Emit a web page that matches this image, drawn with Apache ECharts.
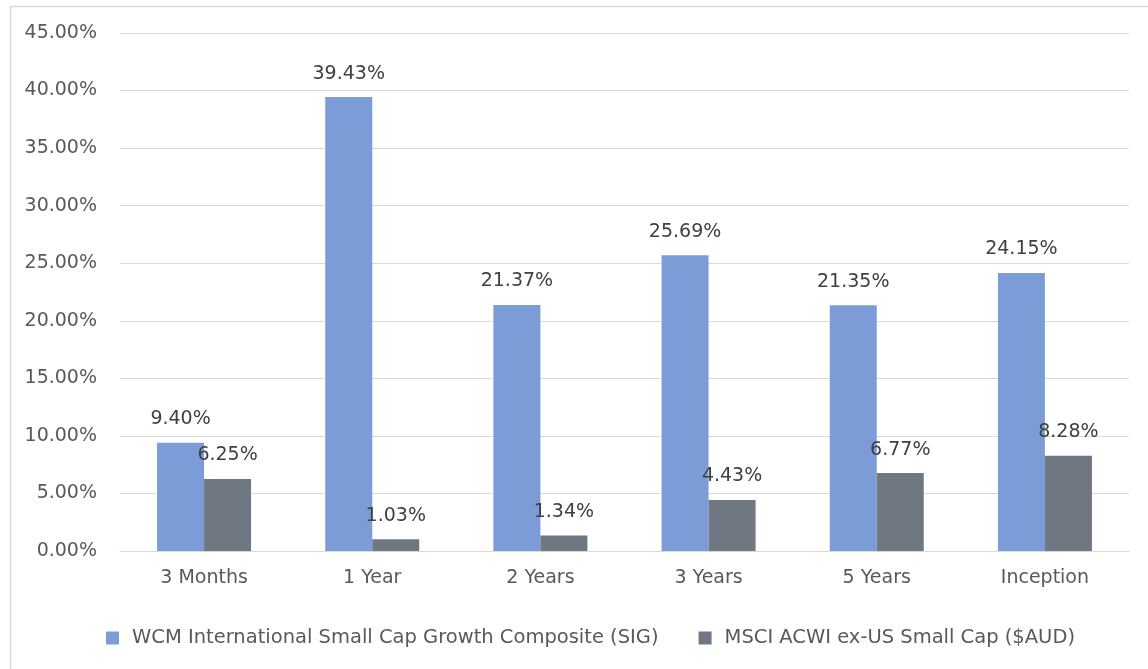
<!DOCTYPE html>
<html>
<head>
<meta charset="utf-8">
<script src="https://cdn.jsdelivr.net/npm/echarts@6/dist/echarts.min.js"></script>
<style>
  html, body { margin: 0; padding: 0; background: #ffffff; }
  #chart { width: 1148px; height: 669px; }
</style>
</head>
<body>
<div id="chart"></div>
<script>
const categories = ['3 Months', '1 Year', '2 Years', '3 Years', '5 Years', 'Inception'];
const seriesNames = ['WCM International Small Cap Growth Composite (SIG)', 'MSCI ACWI ex-US Small Cap ($AUD)'];
const wcmValues = [9.40, 39.43, 21.37, 25.69, 21.35, 24.15];
const msciValues = [6.25, 1.03, 1.34, 4.43, 6.77, 8.28];
const yMin = 0, yMax = 45, yStep = 5;

const FONT = 'DejaVu Sans';
const TEXT = '#595959';

const chart = echarts.init(document.getElementById('chart'), null, { renderer: 'canvas' });
const labelStyle = {
  show: true,
  position: 'top',
  distance: 14,
  fontFamily: FONT,
  fontSize: 19,
  color: '#404040',
  formatter: p => p.value.toFixed(2) + '%'
};
chart.setOption({
  backgroundColor: '#ffffff',
  animation: false,
  graphic: [{
    type: 'rect',
    shape: { x: 10.5, y: 6.5, width: 1300, height: 800 },
    style: { fill: 'none', stroke: '#d9d9d9', lineWidth: 1.5 },
    silent: true
  }],
  grid: { left: 120, right: 19, top: 33, bottom: 118, containLabel: false },
  legend: {
    left: 101,
    top: 623,
    itemWidth: 13,
    itemHeight: 13,
    itemGap: 40,
    icon: 'rect',
    textStyle: { fontFamily: FONT, fontSize: 19.5, color: TEXT, padding: [0, 0, 0, 8] },
    data: seriesNames
  },
  xAxis: {
    type: 'category',
    data: categories,
    axisLine: { show: true, lineStyle: { color: '#d9d9d9', width: 1 } },
    axisTick: { show: false },
    axisLabel: { fontFamily: FONT, fontSize: 19, color: TEXT, margin: 18 }
  },
  yAxis: {
    type: 'value',
    min: yMin,
    max: yMax,
    interval: yStep,
    axisLine: { show: false },
    axisTick: { show: false },
    splitLine: { lineStyle: { color: '#d9d9d9', width: 1 } },
    axisLabel: {
      fontFamily: FONT, fontSize: 19, color: TEXT, margin: 23,
      formatter: v => v.toFixed(2) + '%'
    }
  },
  series: [
    {
      name: seriesNames[0],
      type: 'bar',
      data: wcmValues,
      barWidth: 47,
      barGap: '0%',
      itemStyle: { color: '#7b9cd6' },
      label: labelStyle
    },
    {
      name: seriesNames[1],
      type: 'bar',
      data: msciValues,
      barWidth: 47,
      barGap: '0%',
      itemStyle: { color: '#6f7782' },
      label: labelStyle
    }
  ]
});
</script>
</body>
</html>
